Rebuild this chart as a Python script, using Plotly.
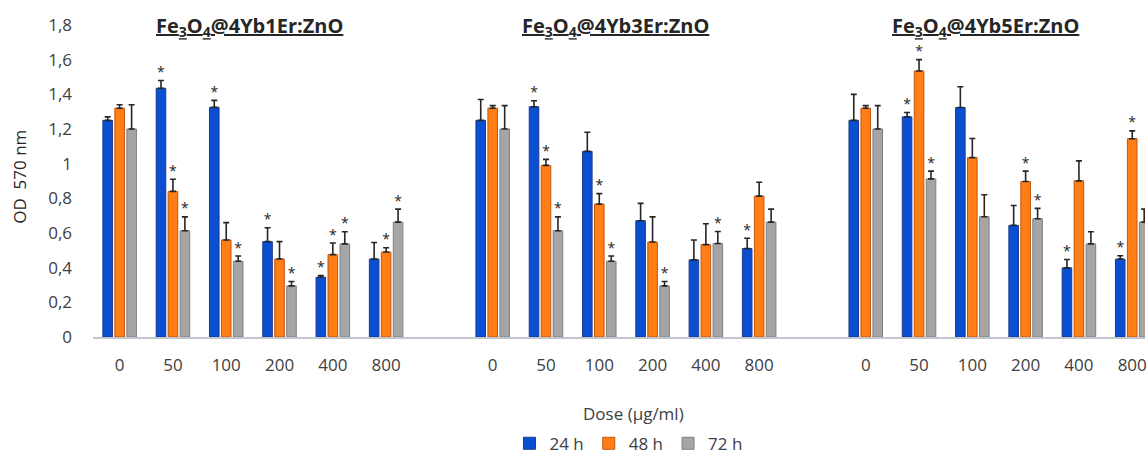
import plotly.graph_objects as go

# Nanoparticle formulations (one block of doses each)
groups = ["Fe<sub>3</sub>O<sub>4</sub>@4Yb1Er:ZnO",
          "Fe<sub>3</sub>O<sub>4</sub>@4Yb3Er:ZnO",
          "Fe<sub>3</sub>O<sub>4</sub>@4Yb5Er:ZnO"]
doses = ["0", "50", "100", "200", "400", "800"]
series_names = ["24 h", "48 h", "72 h"]

# OD 570 nm, mean per dose, one row per formulation
od_24h = [[1.25, 1.435, 1.325, 0.55, 0.345, 0.45],
          [1.25, 1.328, 1.071, 0.671, 0.445, 0.51],
          [1.25, 1.27, 1.324, 0.644, 0.399, 0.449]]
od_48h = [[1.32, 0.84, 0.56, 0.45, 0.475, 0.49],
          [1.32, 0.99, 0.767, 0.548, 0.533, 0.813],
          [1.32, 1.535, 1.035, 0.897, 0.901, 1.144]]
od_72h = [[1.20, 0.613, 0.437, 0.295, 0.537, 0.663],
          [1.20, 0.613, 0.437, 0.295, 0.539, 0.663],
          [1.20, 0.912, 0.694, 0.682, 0.537, 0.663]]

# Upper error (SD)
sd_24h = [[0.02, 0.045, 0.04, 0.08, 0.01, 0.095],
          [0.12, 0.035, 0.11, 0.10, 0.115, 0.06],
          [0.15, 0.025, 0.12, 0.115, 0.048, 0.02]]
sd_48h = [[0.02, 0.07, 0.10, 0.10, 0.067, 0.025],
          [0.015, 0.035, 0.06, 0.145, 0.12, 0.08],
          [0.015, 0.065, 0.11, 0.06, 0.115, 0.045]]
sd_72h = [[0.14, 0.08, 0.03, 0.025, 0.07, 0.075],
          [0.135, 0.08, 0.03, 0.025, 0.07, 0.075],
          [0.135, 0.045, 0.127, 0.06, 0.07, 0.075]]

# Significance flags (1 = marked with *)
sig_24h = [[0, 1, 1, 1, 1, 0],
           [0, 1, 0, 0, 0, 1],
           [0, 1, 0, 0, 1, 1]]
sig_48h = [[0, 1, 0, 0, 1, 1],
           [0, 1, 1, 0, 0, 0],
           [0, 1, 0, 1, 0, 1]]
sig_72h = [[0, 1, 1, 1, 1, 1],
           [0, 1, 1, 1, 1, 0],
           [0, 1, 0, 1, 0, 0]]

y_ticks = [0, 0.2, 0.4, 0.6, 0.8, 1.0, 1.2, 1.4, 1.6, 1.8]
y_tick_text = ["0", "0,2", "0,4", "0,6", "0,8", "1", "1,2", "1,4", "1,6", "1,8"]

fills = ["#0A4FD2", "#FF7E15", "#A5A5A5"]
edges = ["#1B3A8C", "#C4540C", "#7F7F7F"]

BARGAP = 0.326
SLOTS_PER_GROUP = len(doses) + 1  # one empty slot between formulations

# x position of every category slot
x_pos = [g * SLOTS_PER_GROUP + d for g in range(len(groups)) for d in range(len(doses))]
x_text = [d for _ in groups for d in doses]


def flat(rows):
    return [v for row in rows for v in row]


fig = go.Figure()
all_vals = [od_24h, od_48h, od_72h]
all_sd = [sd_24h, sd_48h, sd_72h]
all_sig = [sig_24h, sig_48h, sig_72h]

for i, name in enumerate(series_names):
    vals = flat(all_vals[i])
    sd = flat(all_sd[i])
    fig.add_trace(go.Bar(
        x=x_pos, y=vals, name=name,
        marker=dict(color=fills[i], line=dict(color=edges[i], width=1)),
        error_y=dict(type="data", symmetric=False, array=sd,
                     arrayminus=[0] * len(sd), color="#262626",
                     thickness=1.6, width=3),
    ))

# asterisks above the error bars of significant bars
bar_w = (1 - BARGAP) / len(series_names)
for i in range(len(series_names)):
    vals = flat(all_vals[i])
    sd = flat(all_sd[i])
    sig = flat(all_sig[i])
    sx = [x + (i - 1) * bar_w for x, s in zip(x_pos, sig) if s]
    sy = [v + e for v, e, s in zip(vals, sd, sig) if s]
    fig.add_trace(go.Scatter(
        x=sx, y=sy, mode="text", text=["*"] * len(sx),
        textposition="top center",
        textfont=dict(size=14, color="#262626", family="Open Sans"),
        showlegend=False, hoverinfo="skip",
    ))

FONT = "Open Sans"
annotations = []
title_x = [2.43, 9.3, 16.25]
for g, title in enumerate(groups):
    annotations.append(dict(
        x=title_x[g], xref="x", y=0.994, yref="paper",
        text="<u><b>" + title + "</b></u>", showarrow=False,
        xanchor="center", yanchor="middle",
        font=dict(family=FONT, size=20, color="#262626"),
    ))
annotations.append(dict(
    x=-0.0702, xref="paper", y=0.514, yref="paper",
    text="OD\u00a0\u00a0570 nm",
    textangle=-90, showarrow=False, xanchor="center", yanchor="middle",
    font=dict(family=FONT, size=17, color="#262626"),
))
annotations.append(dict(
    x=0.514, xref="paper", y=-0.246, yref="paper", text="Dose (µg/ml)",
    showarrow=False, xanchor="center", yanchor="middle",
    font=dict(family=FONT, size=17, color="#404040"),
))

fig.update_layout(
    width=1147, height=462,
    margin=dict(l=93, r=0, t=25, b=124),
    plot_bgcolor="white", paper_bgcolor="white",
    barmode="group", bargap=BARGAP, bargroupgap=0.2,
    font=dict(family=FONT, size=16, color="#404040"),
    showlegend=True,
    legend=dict(orientation="h", x=0.509, xanchor="center",
                y=-0.342, yanchor="middle",
                font=dict(family=FONT, size=17, color="#404040"),
                itemwidth=30, traceorder="normal"),
    annotations=annotations,
    xaxis=dict(range=[-0.5, 19.24], tickmode="array", tickvals=x_pos,
               ticktext=x_text, showline=True, linecolor="#C3C6CF",
               linewidth=1.5, ticks="", showgrid=False, zeroline=False,
               ticklabelstandoff=12, ticklabeloverflow="allow",
               tickfont=dict(family=FONT, size=17, color="#404040")),
    yaxis=dict(range=[0, 1.8], tickmode="array", tickvals=y_ticks,
               ticktext=y_tick_text, showline=False, showgrid=False,
               zeroline=False, ticks="", ticklabelstandoff=20,
               tickfont=dict(family=FONT, size=17, color="#404040")),
)

fig.write_html("out.html")
